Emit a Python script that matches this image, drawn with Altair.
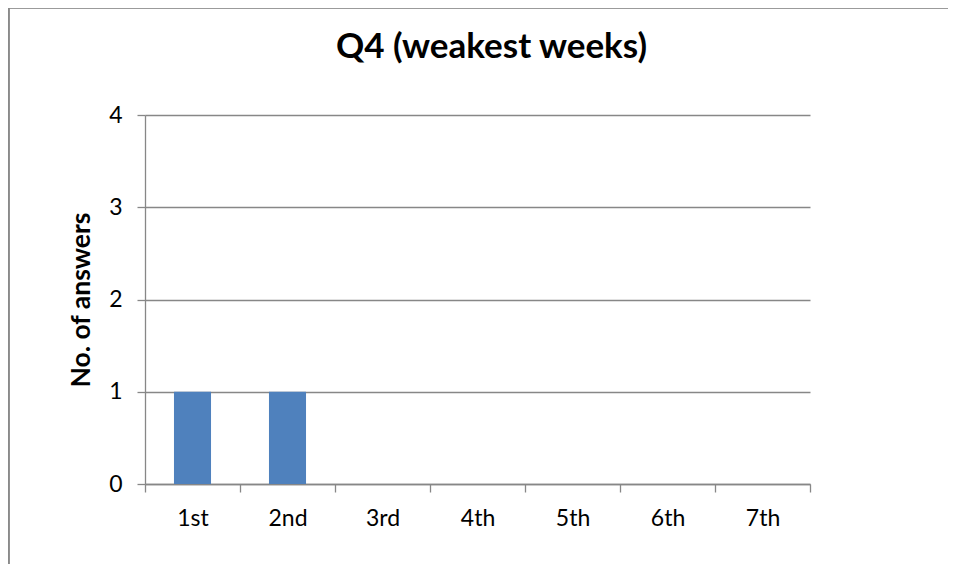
import altair as alt
import pandas as pd

categories = ["1st", "2nd", "3rd", "4th", "5th", "6th", "7th"]
answers = [1, 1, 0, 0, 0, 0, 0]
y_ticks = [0, 1, 2, 3, 4]

df = pd.DataFrame({"week": categories, "answers": answers})

FONT = "Lato"
GRAY = "#878787"

bars = alt.Chart(df).mark_bar(color="#4F81BD", width=alt.RelativeBandSize(0.39)).encode(
    x=alt.X(
        "week:N",
        sort=categories,
        scale=alt.Scale(paddingInner=0, paddingOuter=0),
        axis=alt.Axis(
            title=None,
            labelAngle=0,
            labelFont=FONT,
            labelFontSize=23,
            labelColor="#000000",
            labelPadding=15,
            tickBand="extent",
            ticks=True,
            tickSize=8,
            tickColor=GRAY,
            tickWidth=1.3,
            domainColor=GRAY,
            domainWidth=1.3,
            grid=False,
        ),
    ),
    y=alt.Y(
        "answers:Q",
        scale=alt.Scale(domain=[0, 4], nice=False),
        axis=alt.Axis(
            title="No. of answers",
            titleFont=FONT,
            titleFontSize=26.5,
            titleFontWeight="bold",
            titleColor="#000000",
            titlePadding=13,
            values=y_ticks,
            format="d",
            labelFont=FONT,
            labelFontSize=23,
            labelColor="#000000",
            labelPadding=15,
            tickSize=8,
            tickColor=GRAY,
            tickWidth=1.3,
            domainColor=GRAY,
            domainWidth=1.3,
            grid=True,
            gridColor=GRAY,
            gridWidth=1.3,
        ),
    ),
)

frame = alt.Chart(df).mark_rect(
    fill=None, stroke="#8A8A8A", strokeWidth=1.6, clip=False
).encode(
    x=alt.value(-136.5),
    x2=alt.value(2000),
    y=alt.value(-107.5),
    y2=alt.value(2000),
)

chart = alt.layer(frame, bars).properties(
    width=665,
    height=369,
    title=alt.TitleParams(
        "Q4 (weakest weeks)",
        font=FONT,
        fontSize=35,
        fontWeight="bold",
        color="#000000",
        anchor="middle",
        baseline="alphabetic",
        dx=14,
        offset=-86,
    ),
    autosize=alt.AutoSizeParams(type="none"),
    padding={"left": 137, "top": 107, "right": 138, "bottom": 80},
).configure_view(stroke=None)

chart.save("out.html", embed_options={"renderer": "svg", "actions": False})
